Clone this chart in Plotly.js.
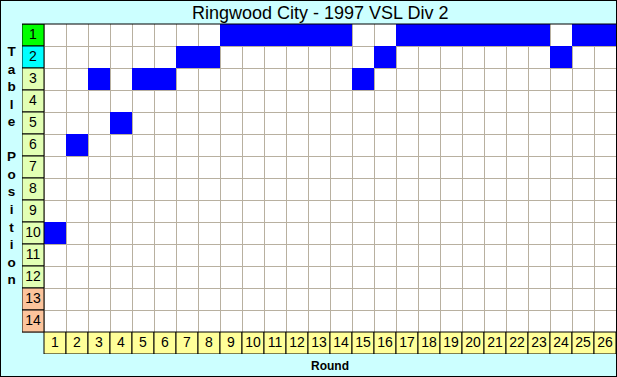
<!DOCTYPE html>
<html><head><meta charset="utf-8">
<script src="https://cdn.plot.ly/plotly-3.0.1.min.js"></script>
<style>
html,body{margin:0;padding:0;background:#ccffff;}
#chart{width:615px;height:375px;border:1px solid #000;}
</style>
</head><body><div id="chart"></div>
<script>
// ---- data ----
const rounds = [1,2,3,4,5,6,7,8,9,10,11,12,13,14,15,16,17,18,19,20,21,22,23,24,25,26];
const positions = [10,6,3,5,3,3,2,2,1,1,1,1,1,1,3,2,1,1,1,1,1,1,1,2,1,1];
const tablePositions = [1,2,3,4,5,6,7,8,9,10,11,12,13,14];
const positionColors = ['#00ff00','#00ffff','#e2ffb4','#e2ffb4','#e2ffb4','#e2ffb4','#e2ffb4','#e2ffb4','#e2ffb4','#e2ffb4','#e2ffb4','#e2ffb4','#fcc49c','#fcc49c'];
const roundLabels = rounds.map(String);
const positionLabels = tablePositions.map(String);
const chartTitle = 'Ringwood City - 1997 VSL Div 2';
const xTitle = 'Round';
const yTitle = 'Table Position';

const nR = rounds.length, nP = tablePositions.length;
const labelFont = {family:'Liberation Sans, Arial, sans-serif', size:14, color:'#000'};

const traces = [
  { type:'bar', x:rounds, y:rounds.map(()=>1), base:positions.map(p=>p-0.5), width:1,
    marker:{color:'#0000ff', line:{width:0}}, hoverinfo:'skip' },
  { type:'bar', x:tablePositions.map(()=>0), y:tablePositions.map(()=>1), base:tablePositions.map(p=>p-0.5), width:1,
    marker:{color:positionColors, line:{color:'#000', width:1}}, hoverinfo:'skip' },
  { type:'bar', x:rounds, y:rounds.map(()=>1), base:rounds.map(()=>nP+0.5), width:1,
    marker:{color:'#ffff99', line:{color:'#000', width:1}}, hoverinfo:'skip' },
  { type:'scatter', mode:'text', x:tablePositions.map(()=>0), y:tablePositions, text:positionLabels,
    textposition:'middle center', textfont:labelFont, hoverinfo:'skip' },
  { type:'scatter', mode:'text', x:rounds, y:rounds.map(()=>nP+1), text:roundLabels,
    textposition:'middle center', textfont:labelFont, hoverinfo:'skip' }
];

const xGrid = [0.5].concat(rounds.map(r=>r+0.5));
const yGrid = [0.5].concat(tablePositions.map(p=>p+0.5));

const vLetters = yTitle.split('').map(c => c === ' ' ? '&nbsp;' : c).join('<br>');

const layout = {
  width:615, height:375,
  margin:{l:21, r:0, t:23, b:22, pad:0},
  paper_bgcolor:'#ccffff', plot_bgcolor:'#ccffff',
  showlegend:false, barmode:'overlay',
  title:{text:chartTitle, font:{family:'Liberation Sans, Arial, sans-serif', size:18, color:'#000'},
         xref:'container', x:0.519, xanchor:'center', yref:'container', y:0.968, yanchor:'middle'},
  xaxis:{range:[-0.5, nR+0.5], tickvals:xGrid, showticklabels:false, ticks:'', showgrid:true,
         gridcolor:'#b8b0a0', gridwidth:1, zeroline:false, showline:false, fixedrange:true},
  yaxis:{range:[nP+1.5, 0.5], tickvals:yGrid, showticklabels:false, ticks:'', showgrid:true,
         gridcolor:'#b8b0a0', gridwidth:1, zeroline:false, showline:false, fixedrange:true},
  shapes:[
    {type:'rect', xref:'x', yref:'y', x0:0.5, x1:nR+0.5, y0:0.5, y1:nP+0.5, layer:'below',
     fillcolor:'#ffffff', line:{width:0}},
    {type:'line', xref:'paper', yref:'paper', x0:0, x1:1, y0:1, y1:1, line:{color:'#000', width:1}}
  ],
  annotations:[
    {text:'<b>'+xTitle+'</b>', xref:'x', x:(nR+1)/2, yref:'paper', y:-0.036, xanchor:'center', yanchor:'middle',
     showarrow:false, font:{family:'Liberation Sans, Arial, sans-serif', size:12, color:'#000'}},
    {text:'<b>'+vLetters+'</b>', xref:'paper', x:0, xshift:-11, yref:'paper', y:0.571, xanchor:'center', yanchor:'middle',
     showarrow:false, align:'center', font:{family:'Liberation Sans, Arial, sans-serif', size:13.5, color:'#000'}}
  ]
};

Plotly.newPlot('chart', traces, layout, {staticPlot:true, displayModeBar:false});
</script>
</body></html>
